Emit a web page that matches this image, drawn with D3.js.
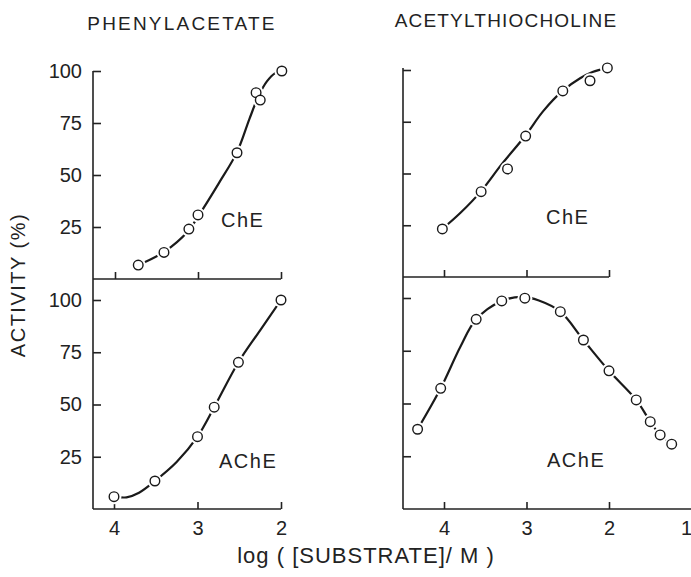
<!DOCTYPE html>
<html>
<head>
<meta charset="utf-8">
<script src="https://cdn.jsdelivr.net/npm/d3@7"></script>
<style>
  body { margin: 0; background: #fff; }
  text { font-family: 'Liberation Sans', Arial, sans-serif; fill: #222; }
</style>
</head>
<body>
<div id="body"></div>
<script>
const width = 691;
const height = 577;

const titles = ['PHENYLACETATE', 'ACETYLTHIOCHOLINE'];
const enzymeLabels = ['ChE', 'AChE'];
const yTicks = [25, 50, 75, 100];
const xTicksLeft = [4, 3, 2];
const xTicksRight = [4, 3, 2, 1];

// measured points, [log substrate, activity %]
const pheChePoints = [[3.72, 6.7], [3.41, 12.8], [3.11, 24], [3.0, 30.8], [2.53, 60.7], [2.30, 89.6], [2.25, 86], [1.99, 100]];
const pheAchePoints = [[4.0, 5.9], [3.51, 13.4], [3.0, 34.6], [2.80, 48.7], [2.51, 70.2], [2.0, 100]];
const atcChePoints = [[4.02, 23.2], [3.55, 41.2], [3.23, 52.2], [3.01, 68.1], [2.56, 89.9], [2.23, 94.8], [2.02, 101]];
const atcAchePoints = [[4.32, 37.8], [4.04, 57.2], [3.61, 89.9], [3.30, 98.6], [3.02, 99.9], [2.59, 93.5], [2.31, 80.1],
    [2.0, 65.5], [1.67, 51.7], [1.50, 41.4], [1.38, 35.1], [1.24, 30.7]];

// hand drawn fitted curves
const pheCheCurve = [[3.72, 6.7], [3.41, 13], [3.12, 23], [3.0, 30], [2.75, 46], [2.53, 61], [2.38, 77], [2.27, 88], [2.17, 95], [2.07, 99], [1.99, 100]];
const pheAcheCurve = [[4.0, 5.9], [3.85, 5.6], [3.7, 7.8], [3.51, 13.4], [3.25, 22.5], [3.0, 34.6], [2.8, 48.7], [2.51, 70.2], [2.25, 85.5], [2.0, 100]];
const atcCheCurve = [[4.02, 23.2], [3.8, 31], [3.55, 41.5], [3.3, 54.5], [3.01, 68.5], [2.8, 80], [2.56, 90], [2.35, 96], [2.2, 99], [2.02, 101]];
const atcAcheCurve = [[4.32, 37.8], [4.04, 57.2], [3.8, 77], [3.61, 89.9], [3.3, 98.6], [3.05, 100.5], [2.85, 98.8], [2.59, 93.5],
    [2.31, 80.1], [2.0, 65.5], [1.67, 51.7], [1.50, 41.4], [1.38, 35.1], [1.24, 30.7]];

const svg = d3.select('#body').append('svg').attr('width', width).attr('height', height);

function makePanel(opts) {
    const x = d3.scaleLinear().domain([4, 2]).range(opts.xRange);
    const y = d3.scaleLinear().domain([0, 100]).range(opts.yRange);
    const g = svg.append('g');

    // y axis
    const yAxis = d3.axisLeft(y).tickValues(opts.yTickValues).tickSize(-8).tickSizeOuter(0).tickPadding(11);
    if (!opts.yLabels) yAxis.tickFormat('');
    const ya = g.append('g').attr('transform', 'translate(' + opts.axisX + ',0)').call(yAxis);
    ya.select('.domain').remove();
    g.append('line').attr('x1', opts.axisX).attr('x2', opts.axisX)
        .attr('y1', opts.axisTop).attr('y2', y(0))
        .style('stroke', '#222').style('stroke-width', 1.6);

    // x axis
    const xAxis = d3.axisBottom(x).tickValues(opts.xTickValues).tickSize(-7).tickSizeOuter(0).tickPadding(12)
        .tickFormat(opts.xLabels ? d3.format('d') : '');
    const xa = g.append('g').attr('transform', 'translate(0,' + y(0) + ')').call(xAxis);
    xa.select('.domain').remove();
    g.append('line').attr('x1', opts.axisX).attr('x2', opts.axisEnd)
        .attr('y1', y(0)).attr('y2', y(0))
        .style('stroke', '#222').style('stroke-width', 1.6);

    g.selectAll('.tick line').style('stroke', '#222').style('stroke-width', 1.6);
    g.selectAll('.tick text').style('font-size', '20px').style('fill', '#222')
        .style('font-family', "'Liberation Sans', Arial, sans-serif");
    // the "1" sits on the right border, keep it inside the picture
    xa.selectAll('.tick text').filter(d => d === 1).attr('text-anchor', 'end').attr('x', 0);

    const line = d3.line().x(d => x(d[0])).y(d => y(d[1])).curve(d3.curveCatmullRom.alpha(0.5));
    g.append('path').attr('d', line(opts.curve))
        .style('fill', 'none').style('stroke', '#1a1a1a').style('stroke-width', 2.2);

    g.selectAll('circle.halo').data(opts.points).enter().append('circle')
        .attr('cx', d => x(d[0])).attr('cy', d => y(d[1])).attr('r', 7.5)
        .style('fill', '#fff');
    g.selectAll('circle.pt').data(opts.points).enter().append('circle')
        .attr('cx', d => x(d[0])).attr('cy', d => y(d[1])).attr('r', 4.8)
        .style('fill', '#fff').style('stroke', '#1a1a1a').style('stroke-width', 1.4);

    g.append('text').attr('x', opts.labelPos[0]).attr('y', opts.labelPos[1])
        .style('font-size', '20px').style('letter-spacing', '1.5px').text(opts.label);
}

makePanel({ xRange: [115, 281], yRange: [279, 71], axisX: 93, axisTop: 71, axisEnd: 281,
    yTickValues: yTicks, yLabels: true, xTickValues: xTicksLeft, xLabels: false,
    points: pheChePoints, curve: pheCheCurve, label: enzymeLabels[0], labelPos: [221, 227] });
makePanel({ xRange: [114, 281], yRange: [509, 300], axisX: 93, axisTop: 279, axisEnd: 281,
    yTickValues: yTicks, yLabels: true, xTickValues: xTicksLeft, xLabels: true,
    points: pheAchePoints, curve: pheAcheCurve, label: enzymeLabels[1], labelPos: [219, 468] });
makePanel({ xRange: [444, 609], yRange: [277, 70], axisX: 403, axisTop: 68, axisEnd: 609,
    yTickValues: yTicks, yLabels: false, xTickValues: xTicksLeft, xLabels: false,
    points: atcChePoints, curve: atcCheCurve, label: enzymeLabels[0], labelPos: [546, 224] });
makePanel({ xRange: [444, 609], yRange: [509, 298], axisX: 403, axisTop: 277, axisEnd: 691,
    yTickValues: yTicks, yLabels: false, xTickValues: xTicksRight, xLabels: true,
    points: atcAchePoints, curve: atcAcheCurve, label: enzymeLabels[1], labelPos: [547, 467] });

// titles and axis names
svg.append('text').attr('x', 182).attr('y', 30).attr('text-anchor', 'middle')
    .style('font-size', '19px').style('letter-spacing', '2.2px').text(titles[0]);
svg.append('text').attr('x', 506).attr('y', 27).attr('text-anchor', 'middle')
    .style('font-size', '19px').style('letter-spacing', '1.2px').text(titles[1]);

svg.append('text').attr('transform', 'translate(25,285) rotate(-90)').attr('text-anchor', 'middle')
    .style('font-size', '20px').style('letter-spacing', '1.5px').text('ACTIVITY (%)');
svg.append('text').attr('x', 366).attr('y', 563).attr('text-anchor', 'middle')
    .style('font-size', '22px').style('letter-spacing', '1px').text('log ( [SUBSTRATE]/ M )');
</script>
</body>
</html>
